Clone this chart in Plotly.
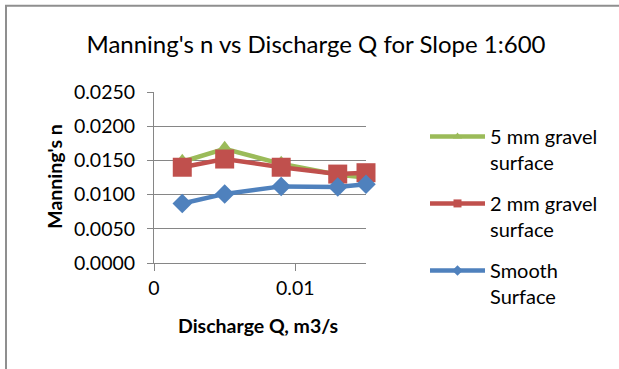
import plotly.graph_objects as go

# Discharge (m3/s) and Manning's n for each surface, slope 1:600
discharge = [0.002, 0.005, 0.009, 0.013, 0.015]
n_gravel_5mm = [0.0148, 0.0167, 0.0145, 0.0129, 0.0125]
n_gravel_2mm = [0.0140, 0.0152, 0.0140, 0.0130, 0.0132]
n_smooth = [0.0087, 0.0101, 0.0112, 0.0111, 0.0115]

series_names = ["5 mm gravel<br>surface", "2 mm gravel<br>surface", "Smooth<br>Surface"]
y_ticks = [0.0, 0.005, 0.010, 0.015, 0.020, 0.025]
y_tick_text = ["0.0000", "0.0050", "0.0100", "0.0150", "0.0200", "0.0250"]
x_ticks = [0, 0.01]
x_tick_text = ["0", "0.01"]

FONT = "Lato"
GREEN, RED, BLUE = "#9BBB59", "#C0504D", "#4F81BD"
GRID = "#868686"

series = [
    (n_gravel_5mm, GREEN, "triangle-up", 16, series_names[0]),
    (n_gravel_2mm, RED, "square", 19, series_names[1]),
    (n_smooth, BLUE, "diamond", 15, series_names[2]),
]

fig = go.Figure()
for i, (vals, color, symbol, size, name) in enumerate(series):
    fig.add_trace(go.Scatter(
        x=discharge, y=vals, mode="lines+markers",
        line=dict(color=color, width=4.5),
        marker=dict(symbol=symbol, size=size, color=color),
        cliponaxis=False, showlegend=False,
    ))
    # legend entry with small marker
    fig.add_trace(go.Scatter(
        x=[None], y=[None], mode="lines+markers", name=name,
        line=dict(color=color, width=4.5),
        marker=dict(symbol=symbol, size=8, color=color),
        legendgroup=f"g{i}",
    ))

W, H = 619, 369
L, R, T, B = 154, 366, 92, 263.5


def px_x(p):
    return (p - L) / (R - L)


def px_y(p):
    return (B - p) / (B - T)


fig.update_layout(
    width=W, height=H,
    margin=dict(l=L, r=W - R, t=T, b=H - B),
    paper_bgcolor="white", plot_bgcolor="white",
    font=dict(family=FONT, size=19.5, color="black"),
    title=dict(
        text="Manning's n vs Discharge Q for Slope 1:600",
        x=316 / W, xanchor="center", y=1 - 45 / H, yanchor="middle",
        font=dict(family=FONT, size=24, color="black"),
    ),
    xaxis=dict(
        range=[0, 0.015], tickvals=x_ticks, ticktext=x_tick_text,
        showgrid=False, zeroline=False,
        showline=True, linecolor=GRID, linewidth=1,
        ticks="outside", ticklen=7, tickcolor=GRID,
        ticklabelstandoff=1,
        tickfont=dict(family=FONT, size=19.5, color="black"),
    ),
    yaxis=dict(
        range=[0, 0.025], tickvals=y_ticks, ticktext=y_tick_text,
        showgrid=True, gridcolor=GRID, gridwidth=1, zeroline=False,
        showline=True, linecolor=GRID, linewidth=1,
        ticks="outside", ticklen=6, tickcolor=GRID,
        ticklabelstandoff=8,
        tickfont=dict(family=FONT, size=19.5, color="black"),
    ),
    legend=dict(
        x=px_x(425), y=px_y(117), xanchor="left", yanchor="top",
        font=dict(family=FONT, size=20, color="black"),
        itemwidth=55, tracegroupgap=12, valign="top",
        bgcolor="rgba(0,0,0,0)", maxheight=330,
    ),
    annotations=[
        dict(text="<b>Manning's n</b>", textangle=-90,
             x=px_x(55), y=px_y(177), xref="paper", yref="paper",
             xanchor="center", yanchor="middle", showarrow=False,
             font=dict(family=FONT, size=19.5, color="black")),
        dict(text="<b>Discharge Q, m3/s</b>",
             x=px_x(258), y=px_y(326), xref="paper", yref="paper",
             xanchor="center", yanchor="middle", showarrow=False,
             font=dict(family=FONT, size=19.5, color="black")),
    ],
    shapes=[
        dict(type="rect", xref="paper", yref="paper",
             x0=px_x(6), x1=px_x(640), y0=px_y(5.5), y1=px_y(400),
             line=dict(color="#8f8f8f", width=2), fillcolor="rgba(0,0,0,0)",
             layer="below"),
    ],
)

fig.write_html("out.html")
